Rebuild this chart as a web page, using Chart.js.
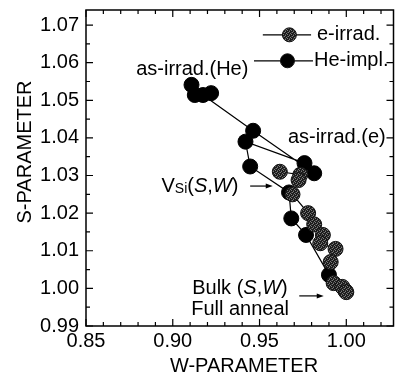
<!DOCTYPE html>
<html><head><meta charset="utf-8">
<script src="https://cdn.jsdelivr.net/npm/chart.js@4.4.0/dist/chart.umd.min.js"></script>
<style>html,body{margin:0;padding:0;background:#fff;overflow:hidden;}
#wrap{position:absolute;left:0;top:0;width:402px;height:379px;}</style>
</head><body><div id="wrap"><canvas id="c"></canvas></div>
<script>
// ---- data ----
const xTicks = [0.85, 0.90, 0.95, 1.00];
const yTicks = [0.99, 1.00, 1.01, 1.02, 1.03, 1.04, 1.05, 1.06, 1.07];
const seriesNames = ['e-irrad.', 'He-impl.'];
// e-irrad. (W, S)
const eW = [0.9617, 0.9735, 0.9725, 0.9690, 0.9780, 0.9815, 0.9865, 0.9850, 0.9938, 0.9910, 0.9927, 0.9977, 1.0000];
const eS = [1.0310, 1.0302, 1.0288, 1.0250, 1.0200, 1.0170, 1.0142, 1.0120, 1.0105, 1.0070, 1.0014, 1.0004, 0.9990];
// He-impl. (W, S)
const heW = [0.9108, 0.9127, 0.9221, 0.9174, 0.9463, 0.9815, 0.9759, 0.9419, 0.9446, 0.9670, 0.9683, 0.9768, 0.9900, 0.9995];
const heS = [1.0541, 1.0514, 1.0519, 1.0514, 1.0419, 1.0306, 1.0333, 1.0390, 1.0324, 1.0255, 1.0186, 1.0142, 1.0036, 0.9993];
const xRange = [0.85, 1.0272];
const yRange = [0.99, 1.074];

const FONT = '"Liberation Sans", Arial, Helvetica, sans-serif';
const toPts = (w, s) => w.map((v, i) => ({x: v, y: s[i]}));

// speckled fill for e-irrad. markers
function makePattern(){
  const c = document.createElement('canvas'); c.width = 4; c.height = 4;
  const g = c.getContext('2d');
  g.fillStyle = '#1c1c1c'; g.fillRect(0,0,4,4);
  g.fillStyle = '#7a7a7a';
  g.fillRect(0,0,1,1); g.fillRect(2,1,1,1); g.fillRect(1,3,1,1); g.fillRect(3,2,1,1);
  g.fillStyle = '#444'; g.fillRect(3,0,1,1); g.fillRect(1,2,1,1);
  return g.createPattern(c, 'repeat');
}
const ctx0 = document.getElementById('c').getContext('2d');
const ePat = makePattern();

function richWidth(ctx, segs){
  let w = 0;
  segs.forEach(s => { ctx.font = s.f; w += ctx.measureText(s.t).width; });
  return w;
}
function drawRich(ctx, segs, x, y, align){
  let w = richWidth(ctx, segs);
  let cx = align === 'right' ? x - w : x;
  ctx.textAlign = 'left'; ctx.textBaseline = 'middle';
  segs.forEach(s => { ctx.font = s.f; ctx.fillText(s.t, cx, y + (s.dy || 0)); cx += ctx.measureText(s.t).width; });
}
function arrow(ctx, x1, y1, x2, y2){
  ctx.beginPath(); ctx.moveTo(x1, y1); ctx.lineTo(x2 - 5, y2); ctx.stroke();
  ctx.beginPath(); ctx.moveTo(x2, y2); ctx.lineTo(x2 - 7, y2 - 2.5); ctx.lineTo(x2 - 7, y2 + 2.5); ctx.closePath(); ctx.fill();
}

const framePlugin = {
  id: 'frame',
  beforeDatasetsDraw(chart){
    const {ctx, chartArea: a, scales: {x, y}} = chart;
    ctx.save();
    ctx.strokeStyle = '#000'; ctx.lineWidth = 1.5;
    ctx.strokeRect(a.left, a.top, a.right - a.left, a.bottom - a.top);
    ctx.lineWidth = 1.2;
    ctx.beginPath();
    for (let i = 0; ; i++){
      const v = xRange[0] + i * 0.01; if (v > xRange[1] + 1e-9) break;
      const px = x.getPixelForValue(v);
      const major = Math.abs(v / 0.05 - Math.round(v / 0.05)) < 1e-6;
      const L = major ? 7 : 4;
      ctx.moveTo(px, a.bottom); ctx.lineTo(px, a.bottom - L);
      ctx.moveTo(px, a.top); ctx.lineTo(px, a.top + L);
    }
    for (let i = 0; ; i++){
      const v = yRange[0] + i * 0.005; if (v > yRange[1] + 1e-9) break;
      const py = y.getPixelForValue(v);
      const major = Math.abs(v / 0.01 - Math.round(v / 0.01)) < 1e-6;
      const L = major ? 7 : 4;
      ctx.moveTo(a.left, py); ctx.lineTo(a.left + L, py);
      ctx.moveTo(a.right, py); ctx.lineTo(a.right - L, py);
    }
    ctx.stroke();
    ctx.restore();
  },
  afterDraw(chart){
    const {ctx, scales: {x, y}} = chart;
    const X = v => x.getPixelForValue(v), Y = v => y.getPixelForValue(v);
    ctx.save();
    ctx.fillStyle = '#000'; ctx.strokeStyle = '#000';
    const F = '20px ' + FONT, FI = 'italic 20px ' + FONT, FS = '14px ' + FONT;
    ctx.font = F; ctx.textBaseline = 'middle';
    // axis titles
    ctx.textAlign = 'center';
    ctx.fillText('W-PARAMETER', 244, 366);
    ctx.save(); ctx.translate(25, 152); ctx.rotate(-Math.PI / 2); ctx.fillText('S-PARAMETER', 0, 0); ctx.restore();
    // legend
    const leg = [
      {name: seriesNames[0], y: 1.0674, x1: 0.9519, x2: 0.9797, m: 0.9672, tx: 0.9831, fill: ePat},
      {name: seriesNames[1], y: 1.0605, x1: 0.9468, x2: 0.9808, m: 0.9661, tx: 0.9814, fill: '#000'}
    ];
    leg.forEach(l => {
      ctx.lineWidth = 1.2;
      ctx.beginPath(); ctx.moveTo(X(l.x1), Y(l.y)); ctx.lineTo(X(l.x2), Y(l.y)); ctx.stroke();
      ctx.beginPath(); ctx.arc(X(l.m), Y(l.y), 7, 0, Math.PI * 2); ctx.fillStyle = l.fill; ctx.fill();
      ctx.lineWidth = 1; ctx.strokeStyle = '#111'; ctx.stroke(); ctx.strokeStyle = '#000';
      ctx.fillStyle = '#000'; ctx.font = F; ctx.textAlign = 'left'; ctx.fillText(l.name, X(l.tx), Y(l.y));
    });
    // annotations
    ctx.textAlign = 'left'; ctx.fillText('as-irrad.(He)', X(0.8789), Y(1.0581));
    ctx.textAlign = 'right'; ctx.fillText('as-irrad.(e)', X(1.0227), Y(1.0400));
    drawRich(ctx, [{t:'V', f:F}, {t:'Si', f:FS, dy:3}, {t:'(', f:F}, {t:'S', f:FI}, {t:',', f:F}, {t:'W', f:FI}, {t:')', f:F}], X(0.9378), Y(1.0272), 'right');
    drawRich(ctx, [{t:'Bulk (', f:F}, {t:'S', f:FI}, {t:',', f:F}, {t:'W', f:FI}, {t:')', f:F}], X(0.9112), Y(1.0001), 'left');
    ctx.font = F; ctx.textAlign = 'left'; ctx.fillText('Full anneal', X(0.9106), Y(0.9945));
    ctx.lineWidth = 1.2;
    arrow(ctx, X(0.9446), Y(1.0272), X(0.9576), Y(1.0272));
    arrow(ctx, X(0.9729), Y(0.9980), X(0.9870), Y(0.9980));
    ctx.restore();
  }
};

new Chart(ctx0, {
  type: 'scatter',
  data: {
    datasets: [
      {label: seriesNames[0], data: toPts(eW, eS), showLine: true, borderColor: '#000', borderWidth: 1.2,
       pointRadius: 7.5, pointBackgroundColor: ePat, pointBorderColor: '#111', pointBorderWidth: 1, tension: 0},
      {label: seriesNames[1], data: toPts(heW, heS), showLine: true, borderColor: '#000', borderWidth: 1.2,
       pointRadius: 7.5, pointBackgroundColor: '#000', pointBorderColor: '#000', pointBorderWidth: 1, tension: 0}
    ]
  },
  options: {
    responsive: true, maintainAspectRatio: false, animation: false, devicePixelRatio: 1,
    layout: {padding: {left: 0, top: 10, right: 3, bottom: 0}},
    plugins: {legend: {display: false}, tooltip: {enabled: false}},
    scales: {
      x: {type: 'linear', min: xRange[0], max: xRange[1],
          afterBuildTicks: s => { s.ticks = xTicks.map(v => ({value: v})); },
          afterFit: s => { s.height = 53; s.paddingLeft = 0; s.paddingRight = 0; },
          grid: {display: false, drawTicks: false}, border: {display: false},
          ticks: {padding: 3, color: '#000', font: {family: FONT, size: 20}, callback: v => v.toFixed(2), maxRotation: 0, autoSkip: false}},
      y: {type: 'linear', min: yRange[0], max: yRange[1],
          afterBuildTicks: s => { s.ticks = yTicks.map(v => ({value: v})); },
          afterFit: s => { s.width = 86; s.paddingTop = 0; s.paddingBottom = 0; },
          grid: {display: false, drawTicks: false}, border: {display: false},
          ticks: {padding: 7, color: '#000', font: {family: FONT, size: 20}, callback: v => v.toFixed(2), autoSkip: false}}
    }
  },
  plugins: [framePlugin]
});
</script></body></html>
